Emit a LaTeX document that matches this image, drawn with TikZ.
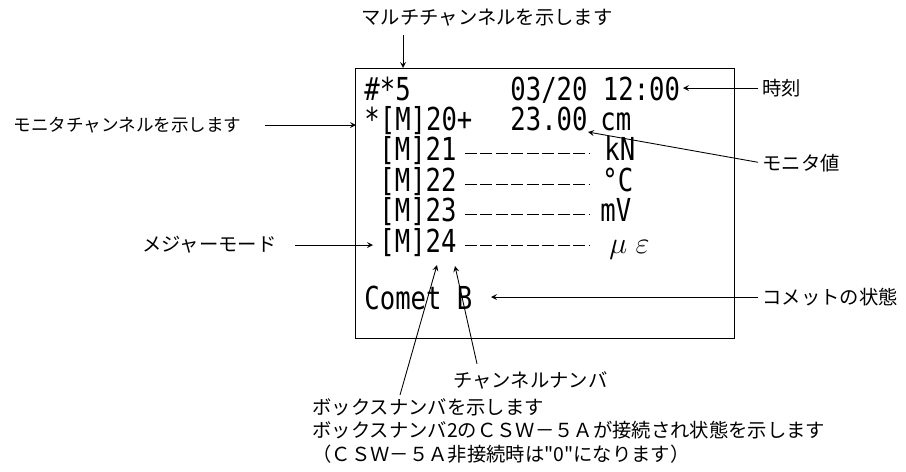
\documentclass[tikz,border=0pt]{standalone}
\usepackage{fontspec}
\usepackage{tikz}
\usetikzlibrary{positioning, arrows}
\newfontfamily\jpfont{Noto Sans CJK JP}
\newfontfamily\lcdfont[FakeStretch=0.81]{DejaVu Sans Mono}

\begin{document}
\begin{tikzpicture}[x=0.02cm, y=-0.02cm, line width=0.5pt,
        jp/.style={font=\jpfont\fontsize{11}{13.4}\selectfont, inner sep=0pt},
        lcd/.style={font=\lcdfont\fontsize{18}{20}\selectfont, inner sep=0pt, anchor=base west},
        ptr/.style={-stealth},
        bar/.style={dash pattern=on 0.24cm off 0.07cm}]
    \useasboundingbox (0,0) rectangle (906,471);

    % the screen
    \node[draw, minimum width=7.58cm, minimum height=5.4cm, inner sep=0pt, anchor=north west] (screen) at (355,68) {};

    \node[lcd] (hdr) at (364,100) {\#*5};
    \node[lcd] (clock) at (510,100) {03/20 12:00};
    \node[lcd] (n20) at (364,130) {*[M]20+};
    \node[lcd] (v20) at (510,130) {23.00};
    \node[lcd] (u20) at (600,130) {cm};
    \node[lcd] (n21) at (379,160.5) {[M]21};
    \node[lcd] (u21) at (604,160.5) {kN};
    \node[lcd] (n22) at (379,191) {[M]22};
    \node[lcd] (u22) at (602,191) {°C};
    \node[lcd] (n23) at (379,221.5) {[M]23};
    \node[lcd] (u23) at (600,221.5) {mV};
    \node[lcd] (n24) at (379,252) {[M]24};
    \node[inner sep=0pt, anchor=base west, font=\fontsize{18}{18}\selectfont] (u24) at (609,253) {$\mu\;\varepsilon$};
    \node[lcd] (comet) at (364,309) {Comet B};

    \draw[bar] (n21.base east) ++(8,-7) -- ++(125,0);
    \draw[bar] (n22.base east) ++(8,-7) -- ++(125,0);
    \draw[bar] (n23.base east) ++(8,-7) -- ++(125,0);
    \draw[bar] (n24.base east) ++(8,-7) -- ++(125,0);

    % labels
    \node[jp] (mch) at (487,18) {マルチチャンネルを示します};
    \node[jp, anchor=east, font=\jpfont\fontsize{10}{12}\selectfont] (mon) at (242,125) {モニタチャンネルを示します};
    \node[jp, anchor=east] (mea) at (277,245) {メジャーモード};
    \node[jp, anchor=west] (jikoku) at (762,88) {時刻};
    \node[jp, anchor=west] (monval) at (762,163) {モニタ値};
    \node[jp, anchor=west] (comst) at (762,297) {コメットの状態};
    \node[jp, anchor=west] (chnum) at (453,380) {チャンネルナンバ};
    \node[jp, anchor=north west, align=left] (boxno) at (312,398) {ボックスナンバを示します\\ボックスナンバ2のＣＳＷ－５Ａが接続され状態を示します\\（ＣＳＷ－５Ａ非接続時は"0"になります）};

    \coordinate (mchtip) at (403,68);
    \coordinate (montip) at (356,125);
    \coordinate (meatip) at (373,245);
    \coordinate (clocktip) at (683,88);
    \coordinate (valtip) at (588,132);
    \coordinate (comettip) at (491,297);
    \coordinate (chtip) at (455,266);
    \coordinate (boxtip) at (437,265);

    \draw[ptr, shorten <=0.16cm] (mch.south -| mchtip) -- (mchtip);
    \draw[ptr, shorten <=0.46cm] (mon.east) -- (montip);
    \draw[ptr, shorten <=0.36cm] (mea.east) -- (meatip);
    \draw[ptr, shorten <=0.08cm] (jikoku.west) -- (clocktip);
    \draw[ptr, shorten <=0.08cm] (monval.west) -- (valtip);
    \draw[ptr, shorten <=0.08cm] (comst.west) -- (comettip);
    \draw[ptr] ([shift={(24,-7)}]chnum.north west) -- (chtip);
    \draw[ptr] ([shift={(88,-3)}]boxno.north west) -- (boxtip);
\end{tikzpicture}
\end{document}
